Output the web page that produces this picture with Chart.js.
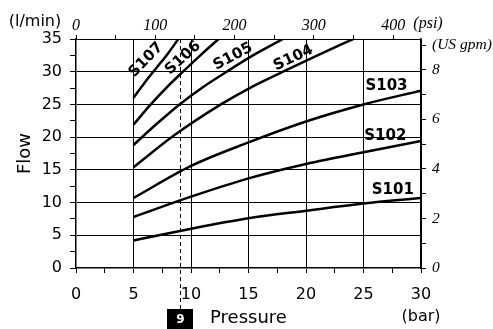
<!DOCTYPE html>
<html>
<head>
<meta charset="utf-8">
<script src="https://cdn.jsdelivr.net/npm/chart.js@4.4.1/dist/chart.umd.min.js"></script>
<style>
  html, body { margin: 0; padding: 0; background: #fff; }
  #wrap { width: 493px; height: 329px; }
</style>
</head>
<body>
<div id="wrap"><canvas id="flowChart" width="493" height="329"></canvas></div>
<script>
// Flow vs pressure curves, one per nozzle size (read from the sheet)
const seriesNames = ['S101', 'S102', 'S103', 'S104', 'S105', 'S106', 'S107'];

const s101Bar = [5, 10, 15, 20, 25, 30];
const s101Flow = [4.2, 6.0, 7.6, 8.75, 9.85, 10.7];
const s102Bar = [5, 10, 15, 20, 25, 30];
const s102Flow = [7.8, 10.9, 13.7, 15.9, 17.7, 19.4];
const s103Bar = [5, 10, 15, 20, 25, 30];
const s103Flow = [10.7, 15.6, 19.2, 22.4, 25.0, 27.1];
const s104Bar = [5, 8.6, 12.6, 15.1, 18, 21, 24.1];
const s104Flow = [15.4, 20.35, 25.0, 27.5, 30.0, 32.5, 35.0];
const s105Bar = [5, 7, 9, 11, 13.1, 15.5, 18];
const s105Flow = [18.8, 22.0, 25.0, 27.6, 30.0, 32.6, 35.0];
const s106Bar = [5, 6.5, 8, 9.3, 11, 12.4];
const s106Flow = [21.9, 25.0, 27.8, 30.0, 32.8, 35.0];
const s107Bar = [5, 6, 7, 8, 8.9];
const s107Flow = [26.0, 28.4, 30.6, 32.8, 35.0];

const markerBar = 9;               // dashed reference line
const markerLabel = '9';

const psiTickLabels = [0, 100, 200, 300, 400];
const gpmTickLabels = [0, 2, 4, 6, 8];

const barToPsi = 14.5038;
const lpmToGpm = 1 / 3.78541;

const barPairs = [s101Bar, s102Bar, s103Bar, s104Bar, s105Bar, s106Bar, s107Bar];
const flowPairs = [s101Flow, s102Flow, s103Flow, s104Flow, s105Flow, s106Flow, s107Flow];

const datasets = seriesNames.map((name, i) => ({
  label: name,
  data: barPairs[i].map((b, j) => ({ x: b, y: flowPairs[i][j] })),
  borderColor: '#000',
  borderWidth: 2.5,
  pointRadius: 0,
  fill: false,
  cubicInterpolationMode: 'monotone'
}));

// where each curve name sits (in bar / l/min) and its slant
const curveTags = {
  S101: { x: 27.55, y: 11.95, rot: 0 },
  S102: { x: 26.9, y: 20.1, rot: 0 },
  S103: { x: 27.0, y: 27.8, rot: 0 },
  S104: { x: 18.9, y: 32.1, rot: -25 },
  S105: { x: 13.65, y: 32.3, rot: -28 },
  S106: { x: 9.3, y: 32.1, rot: -42 },
  S107: { x: 6.1, y: 31.8, rot: -46 }
};

const sans = 'DejaVu Sans';
const serif = 'Liberation Serif';

const gridOnFives = ctx => {
  const v = ctx.tick.value;
  return (Math.abs(v % 5) < 1e-6 && v > 0) ? '#000' : 'rgba(0,0,0,0)';
};

const annotations = {
  id: 'annotations',
  afterDatasetsDraw(chart) {
    const { ctx, scales } = chart;
    const xs = scales.x, ys = scales.y;

    // curve names
    ctx.save();
    ctx.fillStyle = '#000';
    ctx.font = 'bold 15px "' + sans + '"';
    ctx.textAlign = 'center';
    ctx.textBaseline = 'middle';
    seriesNames.forEach(name => {
      const t = curveTags[name];
      ctx.save();
      ctx.translate(xs.getPixelForValue(t.x), ys.getPixelForValue(t.y));
      ctx.rotate(t.rot * Math.PI / 180);
      ctx.fillText(name, 0, 0);
      ctx.restore();
    });
    ctx.restore();
  },
  afterDraw(chart) {
    const { ctx, chartArea, scales } = chart;
    const xs = scales.x;
    const mx = Math.round(xs.getPixelForValue(markerBar)) + 0.5;

    // dashed marker line down into the badge
    ctx.save();
    ctx.strokeStyle = '#000';
    ctx.lineWidth = 1;
    ctx.setLineDash([4, 3]);
    ctx.beginPath();
    ctx.moveTo(mx, chartArea.top);
    ctx.lineTo(mx, 309);
    ctx.stroke();
    ctx.setLineDash([]);

    // badge
    ctx.fillStyle = '#000';
    ctx.fillRect(mx - 13.5, 309, 26, 20);
    ctx.fillStyle = '#fff';
    ctx.font = 'bold 12px "' + sans + '"';
    ctx.textAlign = 'center';
    ctx.textBaseline = 'middle';
    ctx.fillText(markerLabel, mx, 320);

    // unit captions
    ctx.fillStyle = '#000';
    ctx.font = '16px "' + sans + '"';
    ctx.fillText('(l/min)', 35, 22);
    ctx.fillText('(bar)', xs.getPixelForValue(30), 317);
    ctx.font = 'italic 16px "' + serif + '"';
    ctx.fillText('(psi)', 428, 24);
    ctx.restore();
  }
};

new Chart(document.getElementById('flowChart'), {
  type: 'line',
  data: { datasets },
  plugins: [annotations],
  options: {
    responsive: false,
    animation: false,
    layout: { padding: 0 },
    plugins: {
      legend: { display: false },
      tooltip: { enabled: false }
    },
    scales: {
      x: {
        type: 'linear',
        position: 'bottom',
        min: 0,
        max: 30,
        afterFit: s => { s.height = 61; },
        afterBuildTicks: s => {
          s.ticks = [];
          for (let v = 0; v <= 30; v += 2.5) s.ticks.push({ value: v });
        },
        ticks: {
          autoSkip: false,
          maxRotation: 0,
          padding: 12,
          color: '#000',
          font: { family: sans, size: 16 },
          callback: v => (v % 5 === 0 ? v : '')
        },
        grid: { color: gridOnFives, tickColor: '#000', tickLength: 5, lineWidth: 1 },
        border: { color: '#000', width: 1.5 },
        title: {
          display: true,
          text: 'Pressure',
          color: '#000',
          font: { family: sans, size: 18 },
          padding: { top: 0, bottom: 0 }
        }
      },
      x2: {
        type: 'linear',
        position: 'top',
        min: 0,
        max: 30 * barToPsi,
        afterFit: s => { s.height = 39; },
        afterBuildTicks: s => {
          s.ticks = [];
          for (let v = 0; v <= 30 * barToPsi; v += 50) s.ticks.push({ value: v });
        },
        ticks: {
          autoSkip: false,
          maxRotation: 0,
          padding: 0,
          color: '#000',
          font: { family: serif, size: 16, style: 'italic' },
          callback: v => (psiTickLabels.includes(v) ? v : '')
        },
        grid: { drawOnChartArea: false, tickColor: '#000', tickLength: 4 },
        border: { color: '#000', width: 1 }
      },
      y: {
        type: 'linear',
        position: 'left',
        min: 0,
        max: 35,
        afterFit: s => { s.width = 76; },
        afterBuildTicks: s => {
          s.ticks = [];
          for (let v = 0; v <= 35; v += 2.5) s.ticks.push({ value: v });
        },
        ticks: {
          autoSkip: false,
          padding: 8,
          color: '#000',
          font: { family: sans, size: 16 },
          callback: v => (v % 5 === 0 ? v : '')
        },
        grid: { color: gridOnFives, tickColor: '#000', tickLength: 6, lineWidth: 1 },
        border: { color: '#000', width: 1.5 },
        title: {
          display: true,
          text: 'Flow',
          color: '#000',
          font: { family: sans, size: 18 },
          padding: { top: 15, bottom: 0 }
        }
      },
      y2: {
        type: 'linear',
        position: 'right',
        min: 0,
        max: 35 * lpmToGpm,
        afterFit: s => { s.width = 72; },
        afterBuildTicks: s => {
          s.ticks = [];
          for (let v = 0; v <= 9; v += 1) s.ticks.push({ value: v });
        },
        ticks: {
          autoSkip: false,
          padding: 6,
          color: '#000',
          font: { family: serif, size: 15.5, style: 'italic' },
          callback: v => (gpmTickLabels.includes(v) ? v : (v === 9 ? '(US gpm)' : ''))
        },
        grid: { drawOnChartArea: false, tickColor: '#000', tickLength: 5 },
        border: { color: '#000', width: 1.5 }
      }
    }
  }
});
</script>
</body>
</html>
